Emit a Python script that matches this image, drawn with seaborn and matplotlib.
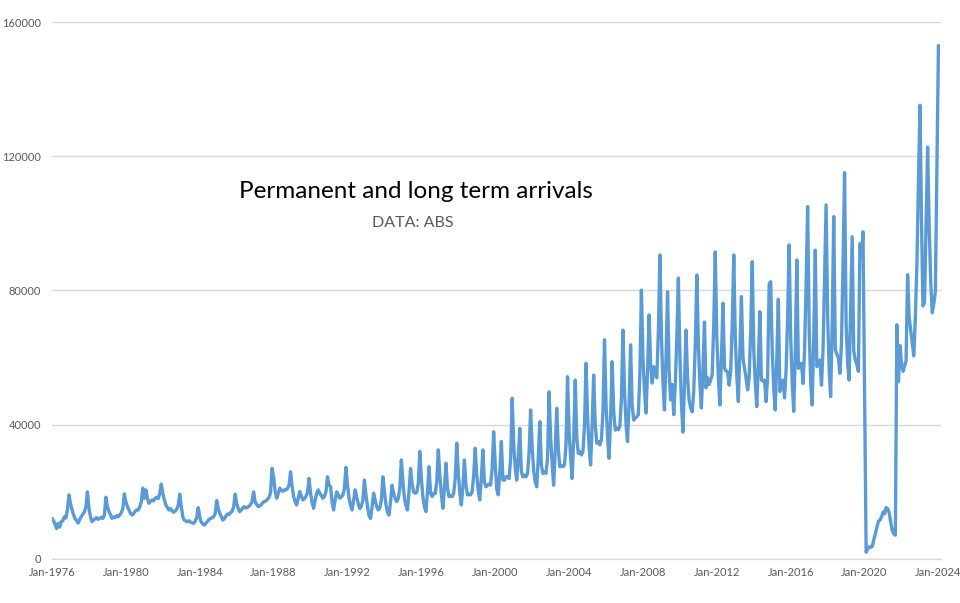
import matplotlib
matplotlib.use("Agg")
import matplotlib.pyplot as plt
import seaborn as sns
import pandas as pd

# Monthly permanent and long term arrivals (one row per year)
arrivals_1970s = [
    12100, 11300, 10400, 9100, 10600, 9500, 11100, 11400, 12600, 12200, 14800, 19100,   # 1976
    16500, 14600, 13200, 12000, 11400, 10700, 11800, 12600, 13300, 14000, 15500, 20000,  # 1977
    15000, 12500, 11100, 11600, 12000, 12300, 11800, 12100, 12400, 12100, 13000, 18400,  # 1978
    15500, 14100, 13200, 12100, 12500, 12300, 12900, 12600, 13100, 13800, 15000, 19400,  # 1979
]
arrivals_1980s = [
    17000, 15600, 14600, 13600, 13100, 13500, 14200, 14600, 14600, 15500, 17000, 21100,  # 1980
    18100, 20600, 18000, 16600, 17200, 17600, 17300, 18100, 18400, 18000, 19500, 22300,  # 1981
    19500, 17500, 16100, 15300, 14600, 15000, 14400, 13900, 14300, 14800, 16000, 19300,  # 1982
    15500, 12500, 11600, 11300, 11100, 11400, 11000, 10800, 10600, 11200, 12300, 15300,  # 1983
    12500, 10900, 10500, 10100, 10600, 11200, 11800, 12000, 12300, 12600, 13500, 17400,  # 1984
    15000, 13600, 12600, 11600, 12000, 12800, 13400, 13200, 13800, 14200, 15500, 19300,  # 1985
    16500, 15000, 14100, 14600, 15200, 15600, 15200, 15400, 15700, 16200, 17200, 20000,  # 1986
    17000, 16200, 15600, 15800, 16100, 16800, 17100, 17300, 17800, 18300, 19800, 27000,  # 1987
    24500, 20000, 18100, 19500, 21100, 20500, 20200, 20600, 20600, 21000, 22000, 26000,  # 1988
    21500, 18500, 17000, 16100, 18000, 20100, 18800, 17600, 18000, 18600, 19800, 24000,  # 1989
]
arrivals_1990s = [
    19500, 16800, 15100, 17500, 19500, 20600, 19600, 19000, 18100, 18600, 20000, 24500,  # 1990
    22000, 21500, 17000, 14600, 17500, 20000, 19200, 18100, 18500, 19000, 21000, 27300,  # 1991
    22000, 18000, 16000, 14600, 17500, 20600, 18500, 16500, 15000, 15800, 17500, 23500,  # 1992
    19000, 15500, 13000, 12100, 15500, 19600, 17500, 15500, 14600, 15200, 17500, 24500,  # 1993
    20000, 16000, 14000, 13100, 17000, 22000, 19500, 18000, 17100, 18000, 21000, 29500,  # 1994
    23000, 18000, 16000, 14600, 20000, 27000, 22500, 20000, 19600, 19800, 22500, 32000,  # 1995
    24000, 18500, 15500, 14100, 20000, 27500, 19500, 18600, 19600, 19500, 23000, 32500,  # 1996
    25000, 19000, 15100, 21000, 28500, 21000, 18600, 18800, 18600, 19500, 24000, 34500,  # 1997
    25500, 19500, 16100, 21500, 29500, 22000, 19100, 19300, 19100, 20000, 25000, 33000,  # 1998
    25000, 20000, 17600, 24000, 32500, 23000, 21500, 22000, 22300, 22000, 27000, 37900,  # 1999
]
arrivals_2000s = [
    28000, 20600, 19100, 26000, 35000, 23500, 23500, 24500, 24500, 24000, 30000, 47900,  # 2000
    34000, 27000, 23500, 30000, 38900, 26000, 24500, 25000, 24500, 25500, 32000, 44400,  # 2001
    33000, 26000, 23000, 21500, 30000, 40900, 28000, 25500, 26000, 25500, 30000, 49800,  # 2002
    36000, 28000, 22000, 32000, 44900, 33000, 27500, 27800, 27500, 28000, 34000, 54300,  # 2003
    38000, 30000, 24000, 36000, 53300, 36000, 31500, 32000, 31000, 32000, 40000, 58300,  # 2004
    42000, 33000, 28000, 40000, 54800, 40000, 34500, 35000, 34000, 35500, 44000, 65300,  # 2005
    46000, 36000, 30000, 42000, 58800, 44000, 38400, 39000, 38500, 39500, 48000, 68200,  # 2006
    50000, 40000, 35000, 46000, 63800, 46000, 41400, 42000, 42400, 43000, 55000, 80100,  # 2007
    60000, 50000, 43500, 56000, 72700, 58000, 52400, 57300, 55000, 54000, 68000, 90600,  # 2008
    66000, 52000, 44400, 60000, 79600, 56000, 47400, 52000, 43000, 52000, 66000, 83700,  # 2009
]
arrivals_2010s = [
    60000, 46000, 37800, 52000, 68200, 54000, 47400, 45000, 43800, 50000, 64000, 84600,   # 2010
    64000, 52000, 45000, 56000, 70600, 51000, 54000, 52000, 53300, 55000, 70000, 91500,   # 2011
    66000, 54000, 45900, 60000, 76200, 56800, 56000, 55800, 51800, 56000, 70000, 90600,   # 2012
    65000, 54000, 46900, 62000, 78200, 60000, 56800, 54000, 50400, 54000, 68000, 88600,   # 2013
    62000, 52000, 45400, 58000, 73700, 53300, 53000, 53300, 46900, 54000, 82000, 82600,   # 2014
    62000, 50000, 44400, 60000, 77400, 49900, 52000, 53300, 48000, 56000, 72000, 93600,   # 2015
    66000, 52000, 44000, 62000, 89100, 56800, 57500, 58300, 52300, 62000, 82000, 105000,  # 2016
    68000, 52000, 45900, 66000, 92000, 57300, 58000, 59300, 51800, 62000, 84000, 105500,  # 2017
    72000, 56000, 48400, 70000, 102000, 62300, 61000, 60000, 55300, 64000, 88000, 115100, # 2018
    70000, 58000, 53300, 75000, 96000, 62000, 59300, 58000, 55900, 93900, 90000, 97500,   # 2019
]
arrivals_2020s = [
    50000, 2000, 3000, 3600, 3500, 3700, 5700, 7500, 9500, 11200, 11600, 12500,              # 2020
    14000, 13500, 15300, 15000, 13800, 11000, 8500, 7500, 7100, 69800, 52800, 63600,         # 2021
    58000, 55900, 57500, 59000, 84700, 72000, 68200, 64000, 60500, 72000, 87700, 112000,     # 2022
    135200, 100000, 75400, 76500, 100000, 122700, 100000, 82600, 73400, 76000, 79600, 115000,  # 2023
    153000,                                                                                  # 2024
]

tick_years = list(range(1976, 2025, 4))
y_ticks = [0, 40000, 80000, 120000, 160000]

LINE_COLOR = "#5B9BD5"
GRID_COLOR = "#D9D9D9"
TEXT_GRAY = "#595959"


def build_frame():
    values = (arrivals_1970s + arrivals_1980s + arrivals_1990s
              + arrivals_2000s + arrivals_2010s + arrivals_2020s)
    dates = pd.date_range("1976-01-01", periods=len(values), freq="MS")
    return pd.DataFrame({"month": dates, "arrivals": values})


def main():
    df = build_frame()

    sns.set_theme(style="white")
    plt.rcParams['font.family'] = ['Lato', 'DejaVu Sans']

    fig = plt.figure(figsize=(9.6, 6.03), dpi=100)
    ax = fig.add_axes([0.0542, 0.0730, 0.9265, 0.8905])

    sns.lineplot(data=df, x="month", y="arrivals", ax=ax, color=LINE_COLOR,
                 linewidth=2.4, solid_joinstyle="round", solid_capstyle="round")

    ax.set_ylim(0, 160000)
    ax.set_xlim(pd.Timestamp("1976-01-01"), pd.Timestamp("2024-03-01"))
    ax.set_yticks(y_ticks)
    ax.set_yticklabels([str(v) for v in y_ticks])
    tick_dates = [pd.Timestamp(f"{y}-01-01") for y in tick_years]
    ax.set_xticks(tick_dates)
    ax.set_xticklabels([f"Jan-{y}" for y in tick_years])

    ax.yaxis.grid(True, color=GRID_COLOR, linewidth=1.0)
    ax.xaxis.grid(False)
    ax.set_axisbelow(True)
    for side in ["left", "right", "top"]:
        ax.spines[side].set_visible(False)
    ax.spines["bottom"].set_color(GRID_COLOR)
    ax.spines["bottom"].set_linewidth(1.0)

    ax.tick_params(axis="y", length=0, pad=8, labelsize=8, labelcolor=TEXT_GRAY)
    ax.tick_params(axis="x", length=0, pad=6, labelsize=8, labelcolor=TEXT_GRAY)
    ax.set_xlabel("")
    ax.set_ylabel("")

    fig.text(0.433, 0.682, "Permanent and long term arrivals", ha="center", va="center",
             fontsize=17.5, color="black")
    fig.text(0.430, 0.630, "DATA: ABS", ha="center", va="center",
             fontsize=11.5, color=TEXT_GRAY)

    fig.savefig("out.png", dpi=100)
    plt.close(fig)


if __name__ == "__main__":
    main()
